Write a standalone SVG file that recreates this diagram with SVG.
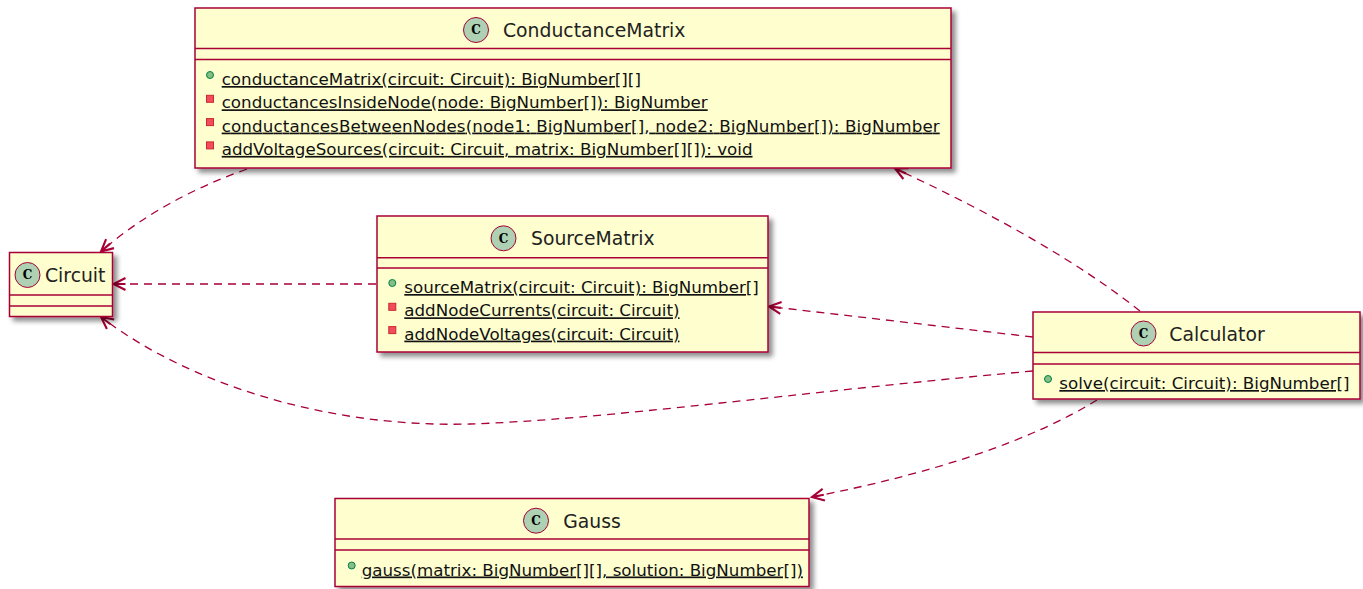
<svg xmlns="http://www.w3.org/2000/svg" width="1363" height="589" viewBox="0 0 1363 589">
  <style>
    .box { fill: #FEFECE; stroke: #A80036; stroke-width: 1.5; }
    .sep { stroke: #A80036; stroke-width: 1.5; }
    .badge { fill: #ADD1B2; stroke: #A80036; stroke-width: 1; }
    .badge-letter { font-family: "DejaVu Serif", serif; font-weight: bold; font-size: 12px; fill: #000; text-anchor: middle; }
    .title { font-family: "DejaVu Sans", sans-serif; font-size: 18.8px; fill: #222; }
    .member { font-family: "DejaVu Sans", sans-serif; font-size: 16.7px; fill: #111; text-decoration: underline; }
    .pub { fill: #84BE84; stroke: #038048; stroke-width: 1; }
    .priv { fill: #F24D5C; stroke: #C82930; stroke-width: 1; }
    .dep { fill: none; stroke: #A80036; stroke-width: 1.3; stroke-dasharray: 8 6; marker-end: url(#open); }
  </style>
  <defs>
    <filter id="shadow" x="-5%" y="-10%" width="115%" height="130%">
      <feGaussianBlur in="SourceAlpha" stdDeviation="2.5"/>
      <feOffset dx="4" dy="4" result="blur"/>
      <feComponentTransfer><feFuncA type="linear" slope="0.45"/></feComponentTransfer>
      <feMerge><feMergeNode/><feMergeNode in="SourceGraphic"/></feMerge>
    </filter>
    <!-- open dependency arrowhead -->
    <marker id="open" markerUnits="userSpaceOnUse" viewBox="-15 -9 18 18" refX="0" refY="0" markerWidth="18" markerHeight="18" orient="auto">
      <path d="M-12,-6 L0,0 L-12,6 M-12,0 L0,0" fill="none" stroke="#A80036" stroke-width="2.1" stroke-linejoin="miter"/>
    </marker>
  </defs>

  <!-- dependencies -->
  <g id="connectors">
    <path class="dep" d="M247,169 Q160,200 101,251.5"/>
    <path class="dep" d="M376,284 L113.5,284"/>
    <path class="dep" d="M1140,311 Q1050,240 895,168.5"/>
    <path class="dep" d="M1033,337 L769,306.5"/>
    <path class="dep" d="M1033,371 C800,392 600,420 470,424 C330,428 190,385 101,317"/>
    <path class="dep" d="M1097,400 Q1000,460 812,497"/>
  </g>

  <g id="ConductanceMatrix">
    <rect class="box" x="195" y="8" width="756" height="160" filter="url(#shadow)"/>
    <line class="sep" x1="195" y1="48.5" x2="951" y2="48.5"/>
    <line class="sep" x1="195" y1="59.5" x2="951" y2="59.5"/>
    <circle class="badge" cx="476" cy="30" r="12.5"/>
    <text class="badge-letter" x="476" y="34.3">C</text>
    <text class="title" x="503" y="37">ConductanceMatrix</text>
    <circle class="pub" cx="210" cy="75" r="3.5"/>
    <text class="member" x="221.7" y="85">conductanceMatrix(circuit: Circuit): BigNumber[][]</text>
    <rect class="priv" x="206.5" y="95.3" width="7" height="7"/>
    <text class="member" x="221.7" y="108.3">conductancesInsideNode(node: BigNumber[]): BigNumber</text>
    <rect class="priv" x="206.5" y="118.6" width="7" height="7"/>
    <text class="member" x="221.7" y="131.6" textLength="718" lengthAdjust="spacing">conductancesBetweenNodes(node1: BigNumber[], node2: BigNumber[]): BigNumber</text>
    <rect class="priv" x="206.5" y="141.9" width="7" height="7"/>
    <text class="member" x="221.7" y="154.9">addVoltageSources(circuit: Circuit, matrix: BigNumber[][]): void</text>
  </g>

  <g id="Circuit">
    <rect class="box" x="9.5" y="252.5" width="103" height="64" filter="url(#shadow)"/>
    <line class="sep" x1="9.5" y1="295" x2="112.5" y2="295"/>
    <line class="sep" x1="9.5" y1="306" x2="112.5" y2="306"/>
    <circle class="badge" cx="27.5" cy="275" r="12.5"/>
    <text class="badge-letter" x="27.5" y="279.3">C</text>
    <text class="title" x="45" y="282">Circuit</text>
  </g>

  <g id="SourceMatrix">
    <rect class="box" x="377" y="216" width="391" height="136" filter="url(#shadow)"/>
    <line class="sep" x1="377" y1="257.7" x2="768" y2="257.7"/>
    <line class="sep" x1="377" y1="268" x2="768" y2="268"/>
    <circle class="badge" cx="503.5" cy="238.3" r="12.5"/>
    <text class="badge-letter" x="503.5" y="242.6">C</text>
    <text class="title" x="531" y="245">SourceMatrix</text>
    <circle class="pub" cx="392.3" cy="283" r="3.5"/>
    <text class="member" x="404.3" y="293">sourceMatrix(circuit: Circuit): BigNumber[]</text>
    <rect class="priv" x="388.8" y="303.3" width="7" height="7"/>
    <text class="member" x="404.3" y="316.3">addNodeCurrents(circuit: Circuit)</text>
    <rect class="priv" x="388.8" y="326.6" width="7" height="7"/>
    <text class="member" x="404.3" y="339.6">addNodeVoltages(circuit: Circuit)</text>
  </g>

  <g id="Calculator">
    <rect class="box" x="1033" y="312" width="327" height="87" filter="url(#shadow)"/>
    <line class="sep" x1="1033" y1="352.5" x2="1360" y2="352.5"/>
    <line class="sep" x1="1033" y1="364" x2="1360" y2="364"/>
    <circle class="badge" cx="1143.5" cy="333.5" r="12.5"/>
    <text class="badge-letter" x="1143.5" y="337.8">C</text>
    <text class="title" x="1169.3" y="341">Calculator</text>
    <circle class="pub" cx="1048" cy="379" r="3.5"/>
    <text class="member" x="1059.3" y="389">solve(circuit: Circuit): BigNumber[]</text>
  </g>

  <g id="Gauss">
    <rect class="box" x="335" y="498.5" width="474" height="88" filter="url(#shadow)"/>
    <line class="sep" x1="335" y1="539" x2="809" y2="539"/>
    <line class="sep" x1="335" y1="550" x2="809" y2="550"/>
    <circle class="badge" cx="536" cy="520.7" r="12.5"/>
    <text class="badge-letter" x="536" y="525">C</text>
    <text class="title" x="563.3" y="527.5">Gauss</text>
    <circle class="pub" cx="351.7" cy="565.5" r="3.5"/>
    <text class="member" x="361.7" y="575.5">gauss(matrix: BigNumber[][], solution: BigNumber[])</text>
  </g>
</svg>
